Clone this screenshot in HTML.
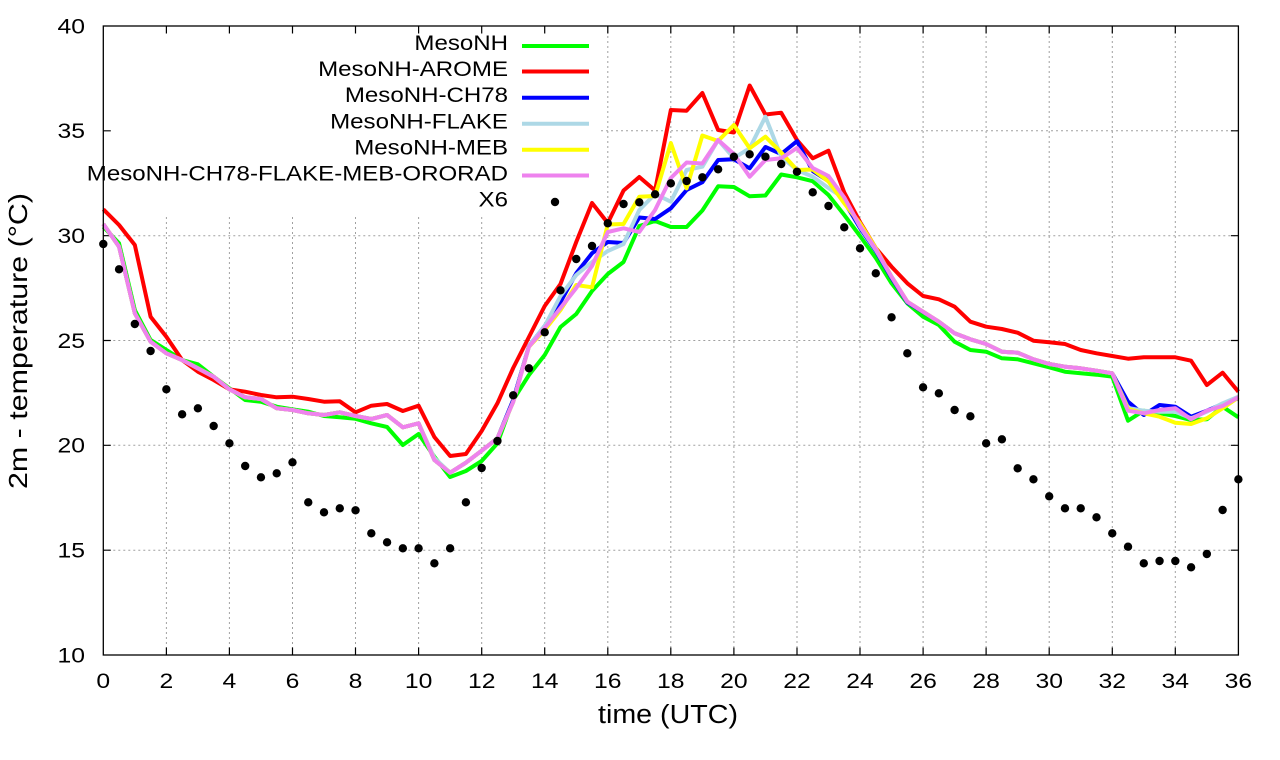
<!DOCTYPE html>
<html><head><meta charset="utf-8"><style>
html,body{margin:0;padding:0;background:#fff;width:1280px;height:760px;overflow:hidden}
svg{display:block}
text{font-family:"Liberation Sans",Arial,sans-serif;fill:#000}
.g{stroke:#a0a0a0;stroke-width:1;stroke-dasharray:2,3;fill:none}
.s{fill:none;stroke-width:4;stroke-linejoin:round;stroke-linecap:butt;vector-effect:non-scaling-stroke}
.t{font-size:21.5px}
</style></head><body>
<svg width="1280" height="760" viewBox="0 0 1280 760" xmlns="http://www.w3.org/2000/svg">
<rect width="1280" height="760" fill="#fff"/>
<!-- grid -->
<g class="g">
<path d="M166.4,217V655M229.4,217V655M292.5,217V655M355.5,217V655M418.6,217V655M481.7,217V655M544.7,217V655"/>
<path d="M607.8,26V655M670.8,26V655M733.9,26V655M797,26V655M860,26V655M923.1,26V655M986.1,26V655M1049.2,26V655M1112.3,26V655M1175.3,26V655"/>
<path d="M103.3,550.2H1238.4M103.3,445.3H1238.4M103.3,340.5H1238.4M103.3,235.7H1238.4M601,130.8H1238.4"/>
</g>
<!-- ticks -->
<g stroke="#000" stroke-width="1.2" fill="none">
<path d="M166.4,655v-7.5M229.4,655v-7.5M292.5,655v-7.5M355.5,655v-7.5M418.6,655v-7.5M481.7,655v-7.5M544.7,655v-7.5M607.8,655v-7.5M670.8,655v-7.5M733.9,655v-7.5M797,655v-7.5M860,655v-7.5M923.1,655v-7.5M986.1,655v-7.5M1049.2,655v-7.5M1112.3,655v-7.5M1175.3,655v-7.5"/>
<path d="M166.4,26v7.5M229.4,26v7.5M292.5,26v7.5M355.5,26v7.5M418.6,26v7.5M481.7,26v7.5M544.7,26v7.5M607.8,26v7.5M670.8,26v7.5M733.9,26v7.5M797,26v7.5M860,26v7.5M923.1,26v7.5M986.1,26v7.5M1049.2,26v7.5M1112.3,26v7.5M1175.3,26v7.5"/>
<path d="M103.3,550.2h7.5M103.3,445.3h7.5M103.3,340.5h7.5M103.3,235.7h7.5M103.3,130.8h7.5"/>
<path d="M1238.4,550.2h-7.5M1238.4,445.3h-7.5M1238.4,340.5h-7.5M1238.4,235.7h-7.5M1238.4,130.8h-7.5"/>
</g>
<!-- series -->
<g transform="translate(103.3,0) scale(15.765,1)">
<polyline class="s" stroke="#00ff00" points="0,226.7 1,243.3 2,310 3,340 4,350 5,360 6,364.3 7,376.7 8,388.3 9,400 10,401.7 11,406.7 12,409.3 13,411.7 14,416 15,417.3 16,418.8 17,423.3 18,427 19,445 20,434 21,456.7 22,477 23,471 24,461 25,443.3 26,400 27,375 28,355 29,327 30,314 31,291 32,274 33,262 34,226 35,221 36,227 37,227 38,210.5 39,186.3 40,187 41,196.3 42,195.5 43,174.5 44,177.3 45,181.2 46,195 47,215 48,236 49,258 50,283.3 51,303.3 52,316.7 53,325 54,341.7 55,350 56,351.7 57,358.3 58,359.3 59,363.3 60,367.3 61,371.7 62,373.3 63,374.7 64,376.7 65,420.7 66,410.7 67,413.3 68,416 69,420 70,419.3 71,406.7 72,417.3"/>
<polyline class="s" stroke="#ff0000" points="0,209.3 1,225 2,245 3,316.7 4,336.7 5,360 6,371.7 7,380 8,389.3 9,391.7 10,395 11,397.3 12,396.7 13,399 14,401.7 15,401.3 16,412.3 17,405.7 18,404 19,411 20,405.7 21,437 22,456 23,454 24,431 25,403.3 26,368 27,337 28,306 29,284 30,242 31,203 32,223 33,190.5 34,177 35,190.5 36,110 37,110.7 38,93 39,130 40,132.5 41,85.5 42,114.5 43,112.7 44,140 45,158.3 46,150.7 47,192.5 48,222 49,248 50,266.7 51,283.3 52,296 53,299.3 54,306.7 55,321.7 56,326.7 57,329 58,332.7 59,340.7 60,342.3 61,344 62,350 63,353.3 64,356 65,358.7 66,357.3 67,357.3 68,357.3 69,360.7 70,385 71,372.7 72,391.7"/>
<polyline class="s" stroke="#0000ff" points="0,224 1,246.7 2,313.3 3,341.7 4,353.3 5,360 6,368.3 7,376.7 8,389.3 9,397.3 10,399 11,408.3 12,410 13,413.3 14,415 15,412.3 16,416 17,419 18,415 19,427.3 20,423.3 21,460 22,472.7 23,462.7 24,450.7 25,438.3 26,400 27,346 28,326 29,302 30,273.3 31,253.3 32,242 33,243 34,217.5 35,219 36,208.3 37,190 38,182.2 39,160 40,159.3 41,168.3 42,147 43,154 44,141.2 45,171 46,181 47,201.7 48,228 49,251 50,278 51,302.5 52,312 53,321.7 54,333.3 55,339.3 56,344 57,351.7 58,352.7 59,359.3 60,364 61,366.7 62,368.3 63,370.7 64,373.3 65,401.7 66,415 67,405 68,406.7 69,416.7 70,410.7 71,404 72,398.3"/>
<polyline class="s" stroke="#add8e6" points="0,224 1,246.7 2,313.3 3,341.7 4,353.3 5,360 6,368.3 7,376.7 8,389.3 9,397.3 10,399 11,408.3 12,410 13,413.3 14,415 15,412.3 16,416 17,419 18,415 19,427.3 20,423.3 21,458 22,472.7 23,462.7 24,450.7 25,438.3 26,402 27,346 28,326 29,296 30,275 31,262 32,251 33,244 34,210 35,194 36,201.7 37,170 38,166.7 39,140 40,158 41,148.3 42,116.7 43,156.7 44,170 45,176.7 46,188 47,198.3 48,226.7 49,250 50,276.7 51,301.7 52,311.7 53,321.7 54,333.3 55,339.3 56,344 57,351.7 58,352.7 59,359.3 60,364 61,366.7 62,368.3 63,370.7 64,373.3 65,408 66,410.7 67,411.7 68,411.7 69,418.3 70,411.7 71,403.3 72,396.7"/>
<polyline class="s" stroke="#ffff00" points="0,224 1,246.7 2,313.3 3,341.7 4,353.3 5,360 6,368.3 7,376.7 8,389.3 9,397.3 10,399 11,408.3 12,410 13,413.3 14,415 15,412.3 16,416 17,419 18,415 19,427.3 20,423.3 21,460 22,472.7 23,462.7 24,450.7 25,438.3 26,402 27,346.7 28,330 29,310 30,285 31,287.3 32,224.5 33,224 34,196.7 35,196 36,143 37,188.3 38,135.5 39,141 40,125 41,148.3 42,136.7 43,152.5 44,170 45,169.5 46,181.5 47,203.3 48,223.3 49,248 50,276.7 51,301.7 52,311.7 53,321.7 54,333.3 55,339.3 56,344 57,351.7 58,352.7 59,359.3 60,364 61,366.7 62,368.3 63,370.7 64,373.3 65,409 66,413.3 67,416.7 68,422.7 69,424 70,418.3 71,408.3 72,397.3"/>
<polyline class="s" stroke="#ee82ee" points="0,224 1,246.7 2,313.3 3,341.7 4,353.3 5,360 6,368.3 7,376.7 8,389.3 9,397.3 10,399 11,408.3 12,410 13,413.3 14,415 15,412.3 16,416 17,419 18,415 19,427.3 20,423.3 21,460 22,472.7 23,462.7 24,450.7 25,438.3 26,402 27,346.7 28,328 29,308 30,288 31,266 32,232 33,228.3 34,232 35,210 36,178 37,162.5 38,163.5 39,140 40,154 41,176.7 42,160 43,158.3 44,148 45,168 46,176 47,197.5 48,226 49,249 50,276.7 51,301.7 52,311.7 53,321.7 54,333.3 55,339.3 56,344 57,351.7 58,352.7 59,359.3 60,364 61,366.7 62,368.3 63,370.7 64,373.3 65,410.7 66,413.3 67,410 68,408.3 69,419.3 70,410.7 71,406 72,397.3"/>
</g>
<!-- X6 dots -->
<g fill="#000">
<circle cx="103.3" cy="244" r="4.2"/><circle cx="119.07" cy="269.3" r="4.2"/><circle cx="134.83" cy="324" r="4.2"/><circle cx="150.6" cy="351" r="4.2"/><circle cx="166.36" cy="389.3" r="4.2"/><circle cx="182.13" cy="414.3" r="4.2"/><circle cx="197.89" cy="408.3" r="4.2"/><circle cx="213.66" cy="426" r="4.2"/><circle cx="229.42" cy="443.3" r="4.2"/><circle cx="245.19" cy="466" r="4.2"/><circle cx="260.95" cy="477.3" r="4.2"/><circle cx="276.72" cy="473.3" r="4.2"/><circle cx="292.48" cy="462.3" r="4.2"/><circle cx="308.25" cy="502.3" r="4.2"/><circle cx="324.01" cy="512.3" r="4.2"/><circle cx="339.78" cy="508.3" r="4.2"/><circle cx="355.54" cy="510.3" r="4.2"/><circle cx="371.31" cy="533.3" r="4.2"/><circle cx="387.07" cy="542.3" r="4.2"/><circle cx="402.84" cy="548.3" r="4.2"/><circle cx="418.6" cy="548.3" r="4.2"/><circle cx="434.37" cy="563.3" r="4.2"/><circle cx="450.13" cy="548.3" r="4.2"/><circle cx="465.9" cy="502.3" r="4.2"/><circle cx="481.66" cy="468" r="4.2"/><circle cx="497.43" cy="441" r="4.2"/><circle cx="513.19" cy="395.3" r="4.2"/><circle cx="528.96" cy="368.3" r="4.2"/><circle cx="544.72" cy="332.3" r="4.2"/><circle cx="560.49" cy="290.3" r="4.2"/><circle cx="576.25" cy="259" r="4.2"/><circle cx="592.02" cy="246" r="4.2"/><circle cx="607.78" cy="223.3" r="4.2"/><circle cx="623.55" cy="204" r="4.2"/><circle cx="639.31" cy="202.3" r="4.2"/><circle cx="655.08" cy="194.3" r="4.2"/><circle cx="670.84" cy="183.3" r="4.2"/><circle cx="686.61" cy="181" r="4.2"/><circle cx="702.37" cy="177.3" r="4.2"/><circle cx="718.14" cy="169.3" r="4.2"/><circle cx="733.9" cy="156.7" r="4.2"/><circle cx="749.67" cy="154.3" r="4.2"/><circle cx="765.43" cy="156.7" r="4.2"/><circle cx="781.2" cy="164" r="4.2"/><circle cx="796.96" cy="171.7" r="4.2"/><circle cx="812.73" cy="192.3" r="4.2"/><circle cx="828.49" cy="206" r="4.2"/><circle cx="844.26" cy="227.3" r="4.2"/><circle cx="860.02" cy="248.3" r="4.2"/><circle cx="875.79" cy="273.3" r="4.2"/><circle cx="891.55" cy="317.3" r="4.2"/><circle cx="907.32" cy="353.3" r="4.2"/><circle cx="923.08" cy="387.3" r="4.2"/><circle cx="938.85" cy="393.3" r="4.2"/><circle cx="954.61" cy="410" r="4.2"/><circle cx="970.38" cy="416.3" r="4.2"/><circle cx="986.14" cy="443.3" r="4.2"/><circle cx="1001.91" cy="439.3" r="4.2"/><circle cx="1017.67" cy="468.3" r="4.2"/><circle cx="1033.44" cy="479.3" r="4.2"/><circle cx="1049.2" cy="496.3" r="4.2"/><circle cx="1064.97" cy="508.3" r="4.2"/><circle cx="1080.73" cy="508.3" r="4.2"/><circle cx="1096.5" cy="517.3" r="4.2"/><circle cx="1112.26" cy="533.3" r="4.2"/><circle cx="1128.03" cy="546.7" r="4.2"/><circle cx="1143.79" cy="563.3" r="4.2"/><circle cx="1159.56" cy="561" r="4.2"/><circle cx="1175.32" cy="561" r="4.2"/><circle cx="1191.09" cy="567.3" r="4.2"/><circle cx="1206.85" cy="554" r="4.2"/><circle cx="1222.62" cy="510" r="4.2"/><circle cx="1238.38" cy="479.3" r="4.2"/>
</g>
<!-- border -->
<rect x="103.3" y="26" width="1135.1" height="629" fill="none" stroke="#000" stroke-width="1.3"/>
<!-- legend -->
<g class="t" text-anchor="end">
<text transform="translate(508,50) scale(1.12,1)">MesoNH</text>
<text transform="translate(508,76.1) scale(1.12,1)">MesoNH-AROME</text>
<text transform="translate(508,102.2) scale(1.12,1)">MesoNH-CH78</text>
<text transform="translate(508,128.3) scale(1.12,1)">MesoNH-FLAKE</text>
<text transform="translate(508,154.4) scale(1.12,1)">MesoNH-MEB</text>
<text transform="translate(508,180.5) scale(1.12,1)">MesoNH-CH78-FLAKE-MEB-ORORAD</text>
<text transform="translate(508,206.6) scale(1.12,1)">X6</text>
</g>
<g stroke-width="4">
<line x1="522" y1="46" x2="589" y2="46" stroke="#00ff00"/>
<line x1="522" y1="71.5" x2="589" y2="71.5" stroke="#ff0000"/>
<line x1="522" y1="97.7" x2="589" y2="97.7" stroke="#0000ff"/>
<line x1="522" y1="123.8" x2="589" y2="123.8" stroke="#add8e6"/>
<line x1="522" y1="149.7" x2="589" y2="149.7" stroke="#ffff00"/>
<line x1="522" y1="175.5" x2="589" y2="175.5" stroke="#ee82ee"/>
</g>
<circle cx="555" cy="202" r="4.2" fill="#000"/>
<!-- y tick labels -->
<g class="t" text-anchor="end">
<text transform="translate(85,662.3) scale(1.15,1)">10</text>
<text transform="translate(85,557.5) scale(1.15,1)">15</text>
<text transform="translate(85,452.6) scale(1.15,1)">20</text>
<text transform="translate(85,347.8) scale(1.15,1)">25</text>
<text transform="translate(85,243) scale(1.15,1)">30</text>
<text transform="translate(85,138.1) scale(1.15,1)">35</text>
<text transform="translate(85,33.3) scale(1.15,1)">40</text>
</g>
<!-- x tick labels -->
<g class="t" text-anchor="middle">
<text transform="translate(103.3,688) scale(1.15,1)">0</text>
<text transform="translate(166.4,688) scale(1.15,1)">2</text>
<text transform="translate(229.4,688) scale(1.15,1)">4</text>
<text transform="translate(292.5,688) scale(1.15,1)">6</text>
<text transform="translate(355.5,688) scale(1.15,1)">8</text>
<text transform="translate(418.6,688) scale(1.15,1)">10</text>
<text transform="translate(481.7,688) scale(1.15,1)">12</text>
<text transform="translate(544.7,688) scale(1.15,1)">14</text>
<text transform="translate(607.8,688) scale(1.15,1)">16</text>
<text transform="translate(670.8,688) scale(1.15,1)">18</text>
<text transform="translate(733.9,688) scale(1.15,1)">20</text>
<text transform="translate(797,688) scale(1.15,1)">22</text>
<text transform="translate(860,688) scale(1.15,1)">24</text>
<text transform="translate(923.1,688) scale(1.15,1)">26</text>
<text transform="translate(986.1,688) scale(1.15,1)">28</text>
<text transform="translate(1049.2,688) scale(1.15,1)">30</text>
<text transform="translate(1112.3,688) scale(1.15,1)">32</text>
<text transform="translate(1175.3,688) scale(1.15,1)">34</text>
<text transform="translate(1238.4,688) scale(1.15,1)">36</text>
</g>
<!-- axis labels -->
<text x="668" y="723" font-size="25.5" text-anchor="middle" textLength="140" lengthAdjust="spacingAndGlyphs">time (UTC)</text>
<text transform="translate(27,341) rotate(-90)" font-size="26" text-anchor="middle" textLength="296" lengthAdjust="spacingAndGlyphs">2m - temperature (°C)</text>
</svg>
</body></html>
